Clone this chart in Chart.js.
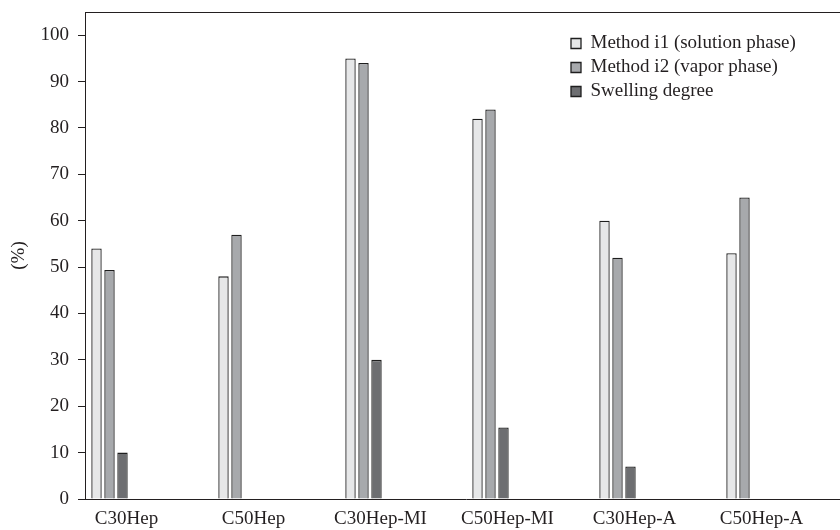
<!DOCTYPE html>
<html>
<head>
<meta charset="utf-8">
<script src="https://cdn.jsdelivr.net/npm/chart.js@4"></script>
<style>
  html, body { margin: 0; padding: 0; background: #fff; overflow: hidden; }
</style>
</head>
<body>
<canvas id="myChart" width="848" height="530"></canvas>
<script>
const categories = ["C30Hep", "C50Hep", "C30Hep-MI", "C50Hep-MI", "C30Hep-A", "C50Hep-A"];
const methodI1 = [54, 48, 95, 82, 60, 53];
const methodI2 = [49.4, 57, 94, 84, 52, 65];
const swelling = [10, null, 30, 15.4, 7, null];
const seriesNames = ["Method i1 (solution phase)", "Method i2 (vapor phase)", "Swelling degree"];
const yMin = 0;
const yMax = 105;
const yStep = 10;

const ink = "#231f20";
const serif = "'Liberation Serif', 'DejaVu Serif', serif";

// the original leaves room for more bars in each group, so pad with empty slots
const datasets = [
  { label: seriesNames[0], data: methodI1, backgroundColor: "#e6e7e8" },
  { label: seriesNames[1], data: methodI2, backgroundColor: "#a7a9ac" },
  { label: seriesNames[2], data: swelling, backgroundColor: "#6d6e71" },
];
for (let i = 0; i < 6; i++) datasets.push({ label: "", data: [] });
datasets.forEach(function (d) {
  d.borderColor = "#1e1e1e";
  d.borderWidth = 1.3;
  d.barPercentage = 0.8;
  d.categoryPercentage = 117 / 127;
});

// legend sits inside the plot, top right
const legendMover = {
  id: "legendMover",
  afterLayout(chart) {
    const lg = chart.legend;
    const a = chart.chartArea;
    const w = lg.width, h = lg.height;
    lg.left = a.left + 481;
    lg.top = a.top + 17;
    lg.right = lg.left + w;
    lg.bottom = lg.top + h;
  },
};

// top frame line
const topLine = {
  id: "topLine",
  afterDraw(chart) {
    const c = chart.ctx, a = chart.chartArea;
    c.save();
    c.strokeStyle = ink;
    c.lineWidth = 1;
    c.beginPath();
    c.moveTo(a.left, a.top + 0.5);
    c.lineTo(a.right, a.top + 0.5);
    c.stroke();
    c.restore();
  },
};

const config = {
  type: "bar",
  data: { labels: categories, datasets: datasets },
  plugins: [legendMover, topLine],
  options: {
    responsive: false,
    animation: false,
    layout: { padding: { top: 12, right: 1, left: 0, bottom: 0 } },
    scales: {
      x: {
        grid: { display: false, drawTicks: false },
        border: { display: true, color: ink, width: 1 },
        ticks: {
          color: ink,
          font: { family: serif, size: 19 },
          padding: 9,
          labelOffset: -22,
          maxRotation: 0,
          autoSkip: false,
        },
        afterFit: function (s) {
          s.height = 31;
          s.paddingLeft = 0;
          s.paddingRight = 0;
        },
      },
      y: {
        min: yMin,
        max: yMax,
        grid: { display: true, drawOnChartArea: false, drawTicks: true, tickLength: 7, color: ink },
        border: { display: true, color: ink, width: 1 },
        ticks: {
          stepSize: yStep,
          color: ink,
          font: { family: serif, size: 19 },
          padding: 9,
        },
        afterBuildTicks: function (s) {
          s.ticks = s.ticks.filter(function (t) { return t.value <= 100; });
        },
        title: {
          display: true,
          text: "(%)",
          color: ink,
          font: { family: serif, size: 19 },
          padding: { top: 8, bottom: 4 },
        },
        afterFit: function (s) {
          s.width = 85;
          s.paddingTop = 0;
          s.paddingBottom = 0;
        },
      },
    },
    plugins: {
      legend: {
        position: "chartArea",
        align: "start",
        labels: {
          boxWidth: 10,
          boxHeight: 10,
          padding: 5,
          color: ink,
          font: { family: serif, size: 19 },
          filter: function (item) { return item.text !== ""; },
        },
      },
      tooltip: { enabled: false },
    },
  },
};

const myChart = new Chart(document.getElementById("myChart"), config);
</script>
</body>
</html>
